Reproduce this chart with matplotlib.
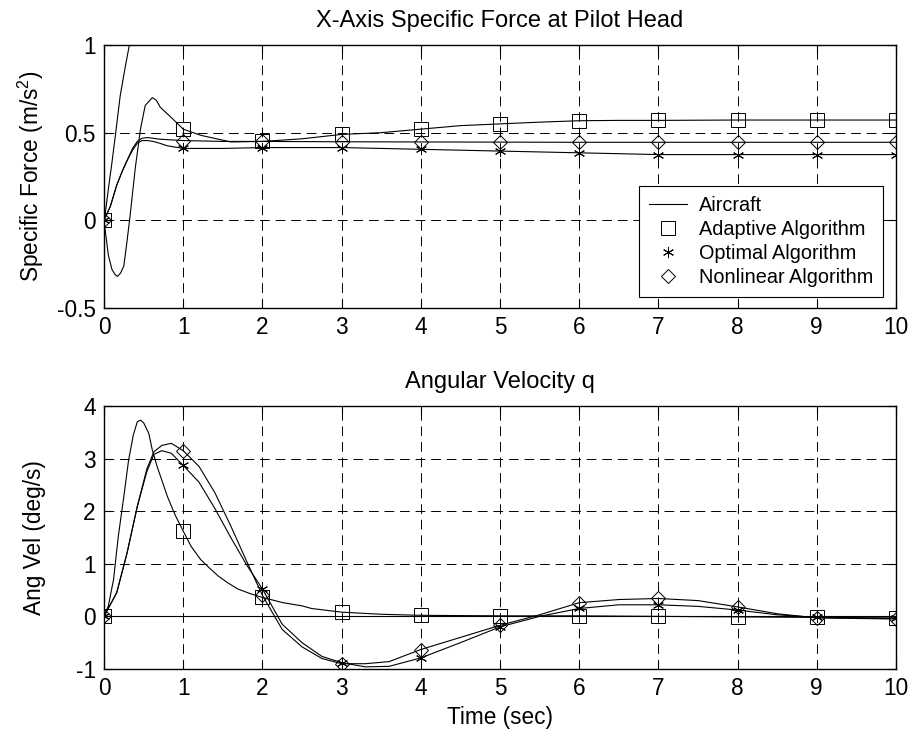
import numpy as np
import matplotlib
matplotlib.use("Agg")
import matplotlib.pyplot as plt

plt.rcParams["font.family"] = ["Liberation Sans", "DejaVu Sans"]
plt.rcParams["mathtext.fontset"] = "custom"
plt.rcParams["mathtext.rm"] = "Liberation Sans"
plt.rcParams["mathtext.it"] = "Liberation Sans:italic"
plt.rcParams["axes.unicode_minus"] = False

# ---- top panel: X-axis specific force (m/s^2) ----
t_ac_f = [0, 0.013, 0.055, 0.1, 0.153, 0.204, 0.27, 0.32, 0.4, 0.6, 10]
f_ac = [0, 0.03, 0.18, 0.33, 0.52, 0.71, 0.88, 1.0, 1.2, 1.5, 1.5]

t_ad_f = [0, 0.013, 0.055, 0.1, 0.14, 0.17, 0.21, 0.25, 0.29, 0.33, 0.395, 0.46,
          0.52, 0.61, 0.66, 0.71, 0.84, 1.0, 1.22, 1.6, 2.0, 2.5, 3, 3.5, 4, 4.5,
          5, 5.5, 6, 6.5, 7, 8, 9, 10]
f_ad = [0, -0.05, -0.2, -0.28, -0.31, -0.32, -0.3, -0.26, -0.12, 0.03, 0.3, 0.52,
        0.655, 0.70, 0.685, 0.645, 0.59, 0.52, 0.485, 0.447, 0.45, 0.465, 0.49,
        0.5, 0.52, 0.54, 0.55, 0.56, 0.568, 0.57, 0.57, 0.572, 0.572, 0.572]

t_op_f = [0, 0.08, 0.16, 0.23, 0.29, 0.36, 0.42, 0.48, 0.55, 0.62, 0.7, 0.8,
          1, 1.5, 2, 3, 4, 5, 6, 7, 8, 9, 10]
f_op = [0, 0.08, 0.2, 0.28, 0.34, 0.4, 0.44, 0.455, 0.455, 0.45, 0.44, 0.425,
        0.41, 0.41, 0.415, 0.415, 0.405, 0.395, 0.385, 0.375, 0.375, 0.375, 0.375]

t_nl_f = [0, 0.08, 0.16, 0.23, 0.29, 0.36, 0.42, 0.48, 0.55, 0.62, 0.7, 0.8,
          1, 1.5, 2, 3, 4, 5, 6, 7, 8, 9, 10]
f_nl = [0, 0.08, 0.2, 0.28, 0.34, 0.41, 0.45, 0.468, 0.472, 0.468, 0.463, 0.46,
        0.455, 0.45, 0.45, 0.448, 0.447, 0.446, 0.445, 0.445, 0.445, 0.445, 0.445]

# ---- bottom panel: angular velocity q (deg/s) ----
t_ac_q = [0, 10]
q_ac = [0, 0]

t_ad_q = [0, 0.055, 0.12, 0.18, 0.25, 0.31, 0.37, 0.42, 0.46, 0.5, 0.565, 0.61,
          0.67, 0.8, 0.9, 1.0, 1.1, 1.22, 1.33, 1.44, 1.56, 1.69, 1.85, 2.0, 2.26,
          2.5, 2.62, 3.0, 3.5, 4, 5, 6, 7, 8, 9, 10]
q_ad = [0, 0.2, 0.7, 1.52, 2.28, 2.97, 3.45, 3.7, 3.73, 3.68, 3.48, 3.16, 2.85,
        2.28, 1.92, 1.62, 1.33, 1.08, 0.92, 0.77, 0.64, 0.52, 0.43, 0.36, 0.26,
        0.2, 0.15, 0.08, 0.04, 0.02, 0.01, 0.01, 0.0, -0.01, -0.02, -0.03]

t_op_q = [0, 0.16, 0.29, 0.42, 0.54, 0.63, 0.73, 0.85, 1.0, 1.2, 1.4, 1.6, 1.8,
          2.0, 2.25, 2.5, 2.75, 3.0, 3.3, 3.6, 4.0, 4.5, 5.0, 5.5, 6.0, 6.5, 7.0,
          7.5, 8.0, 8.5, 9.0, 10]
q_op = [0, 0.45, 1.2, 2.09, 2.75, 3.08, 3.15, 3.1, 2.87, 2.55, 2.05, 1.5, 0.98,
        0.52, -0.15, -0.5, -0.76, -0.88, -0.96, -0.95, -0.79, -0.5, -0.2, 0.0,
        0.15, 0.22, 0.22, 0.19, 0.12, 0.03, -0.02, -0.04]

t_nl_q = t_op_q
q_nl = [0, 0.45, 1.2, 2.09, 2.8, 3.13, 3.25, 3.29, 3.15, 2.85, 2.35, 1.72, 1.05,
        0.4, -0.25, -0.58, -0.8, -0.9, -0.9, -0.86, -0.63, -0.4, -0.17, 0.03,
        0.26, 0.32, 0.34, 0.3, 0.18, 0.05, -0.03, -0.05]

x_ticks = list(range(0, 11))
f_ticks = [-0.5, 0, 0.5, 1]
f_tick_labels = ["-0.5", "0", "0.5", "1"]
q_ticks = [-1, 0, 1, 2, 3, 4]
q_tick_labels = ["-1", "0", "1", "2", "3", "4"]

labels = ["Aircraft", "Adaptive Algorithm", "Optimal Algorithm", "Nonlinear Algorithm"]
markers = ["s", (6, 2, 0), "D"]
marker_sizes = [10.5, 8, 7.5]


def at_seconds(t, v):
    # pick the samples that sit on whole seconds (marker positions)
    t = np.asarray(t)
    v = np.asarray(v)
    keep = np.isclose(t, np.round(t))
    return t[keep], v[keep]


def draw_panel(ax, aircraft, algos, title, ylabel, yticks, yticklabels, ylim):
    ax.plot(aircraft[0], aircraft[1], color="black", lw=0.8, label=labels[0])
    for i, (t, v) in enumerate(algos):
        ax.plot(t, v, color="black", lw=0.8)
        tm, vm = at_seconds(t, v)
        ax.plot(tm, vm, ls="none", marker=markers[i], ms=marker_sizes[i],
                mfc="none", mec="black", mew=0.7, label=labels[i + 1])

    ax.set_xlim(0, 10)
    ax.set_ylim(*ylim)
    ax.set_xticks(x_ticks)
    ax.set_yticks(yticks)
    ax.set_yticklabels(yticklabels)
    ax.grid(True, color="black", linestyle=(0, (10, 6)), linewidth=0.7)
    ax.tick_params(direction="in", top=True, right=True, length=6, width=0.8,
                   labelsize=16.3, pad=6)
    for s in ax.spines.values():
        s.set_linewidth(1.0)
    ax.set_title(title, fontsize=17, pad=13)
    ax.set_ylabel(ylabel, fontsize=16.3)
    # both y labels sit at the same distance from the axes, as in the original
    ax.yaxis.set_label_coords(-0.073, 0.5)


fig = plt.figure(figsize=(9.11, 7.34), dpi=100)
ax1 = fig.add_axes([0.1142, 0.5804, 0.8693, 0.3583])
ax2 = fig.add_axes([0.1142, 0.0886, 0.8693, 0.3583])

draw_panel(ax1, (t_ac_f, f_ac),
           [(t_ad_f, f_ad), (t_op_f, f_op), (t_nl_f, f_nl)],
           "X-Axis Specific Force at Pilot Head", "Specific Force (m/s$^2$)",
           f_ticks, f_tick_labels, (-0.5, 1))
draw_panel(ax2, (t_ac_q, q_ac),
           [(t_ad_q, q_ad), (t_op_q, q_op), (t_nl_q, q_nl)],
           "Angular Velocity q", "Ang Vel (deg/s)",
           q_ticks, q_tick_labels, (-1, 4))
ax2.set_xlabel("Time (sec)", fontsize=16.3)

leg = ax1.legend(loc="lower right", bbox_to_anchor=(0.9836, 0.0418),
                 borderaxespad=0, fancybox=False, edgecolor="black", framealpha=1,
                 fontsize=14.3, handlelength=1.9, handletextpad=0.6,
                 borderpad=0.5, labelspacing=0.25)
leg.get_frame().set_linewidth(0.8)

fig.savefig("out.png", dpi=100)
